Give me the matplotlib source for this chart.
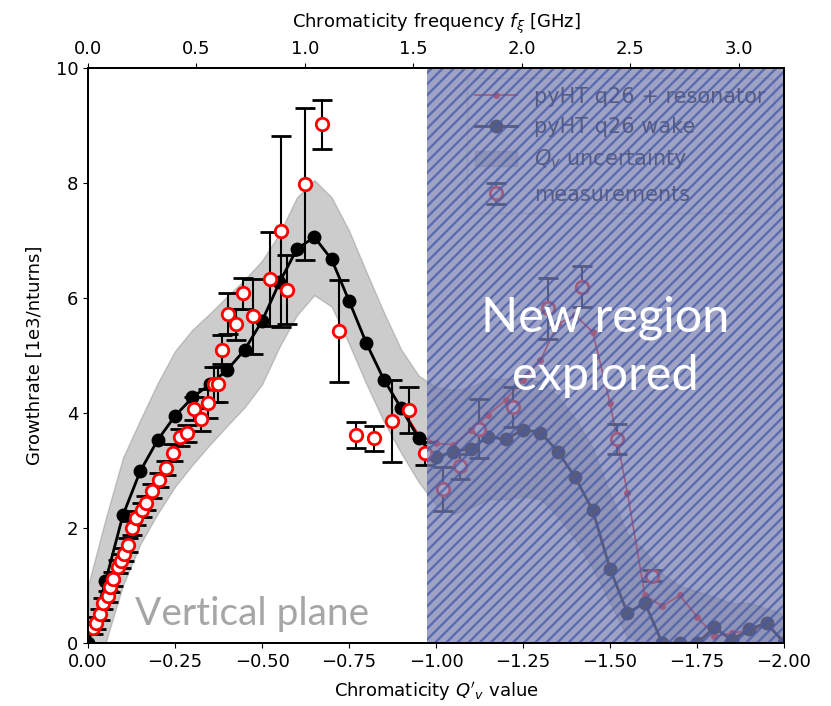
import matplotlib
matplotlib.use("Agg")
import matplotlib.pyplot as plt
import numpy as np

# ---------------- data ----------------
q_sim = [0.0, -0.05, -0.10, -0.15, -0.20, -0.25, -0.30, -0.35, -0.40, -0.45,
         -0.50, -0.55, -0.60, -0.65, -0.70, -0.75, -0.80, -0.85, -0.90, -0.95,
         -1.00, -1.05, -1.10, -1.15, -1.20, -1.25, -1.30, -1.35, -1.40, -1.45,
         -1.50, -1.55, -1.60, -1.65, -1.70, -1.75, -1.80, -1.85, -1.90, -1.95, -2.00]

wake = [0.0, 1.07, 2.22, 2.99, 3.53, 3.95, 4.27, 4.50, 4.75, 5.10,
        5.60, 6.27, 6.85, 7.06, 6.67, 5.95, 5.21, 4.58, 4.08, 3.56,
        3.23, 3.33, 3.38, 3.59, 3.54, 3.71, 3.66, 3.33, 2.88, 2.31,
        1.29, 0.52, 0.70, 0.0, 0.0, 0.0, 0.27, 0.05, 0.24, 0.35, 0.0]

resonator = [0.0, 1.07, 2.22, 2.99, 3.53, 3.95, 4.27, 4.50, 4.75, 5.10,
             5.60, 6.27, 6.85, 7.06, 6.67, 5.95, 5.21, 4.58, 4.10, 3.62,
             3.47, 3.45, 3.70, 3.97, 4.23, 4.57, 4.92, 5.55, 5.70, 5.41,
             4.17, 2.61, 0.83, 0.64, 0.83, 0.46, 0.12, 0.17, 0.22, 0.30, 0.05]

band_upper = [1.00, 2.15, 3.22, 3.88, 4.52, 5.08, 5.45, 5.73, 6.03, 6.32,
              6.65, 7.12, 7.75, 8.05, 7.75, 7.17, 6.45, 5.75, 5.10, 4.65,
              4.45, 4.40, 4.45, 4.60, 4.60, 4.60, 4.55, 4.30, 3.90, 3.40,
              2.60, 1.90, 1.60, 1.20, 1.00, 0.90, 0.80, 0.70, 0.70, 0.60, 0.50]

band_lower = [0.0, 0.0, 1.00, 1.72, 2.25, 2.72, 3.10, 3.45, 3.78, 4.10,
              4.50, 5.15, 5.70, 6.05, 5.85, 5.20, 4.50, 3.85, 3.30, 2.80,
              2.40, 2.25, 2.35, 2.50, 2.50, 2.55, 2.50, 2.20, 1.80, 1.30,
              0.70, 0.10, 0.0, 0.0, 0.0, 0.0, 0.0, 0.0, 0.0, 0.0, 0.0]

meas_q = [-0.015, -0.022, -0.033, -0.044, -0.056, -0.063, -0.073, -0.085, -0.095, -0.104,
          -0.114, -0.126, -0.138, -0.154, -0.165, -0.183, -0.204, -0.224, -0.245, -0.264,
          -0.285, -0.303, -0.324, -0.344, -0.363, -0.374, -0.384, -0.403, -0.424, -0.444,
          -0.473, -0.523, -0.553, -0.573, -0.623, -0.671, -0.721, -0.771, -0.822, -0.872,
          -0.922, -0.968, -1.021, -1.069, -1.122, -1.222, -1.323, -1.418, -1.519, -1.620]
meas_g = [0.26, 0.35, 0.50, 0.69, 0.81, 0.98, 1.12, 1.33, 1.43, 1.54,
          1.70, 2.00, 2.18, 2.31, 2.44, 2.64, 2.83, 3.05, 3.31, 3.58,
          3.65, 4.07, 3.89, 4.17, 4.50, 4.50, 5.10, 5.73, 5.54, 6.08,
          5.68, 6.33, 7.16, 6.14, 7.98, 9.02, 5.43, 3.62, 3.56, 3.86,
          4.05, 3.30, 2.68, 3.07, 3.73, 4.11, 5.82, 6.20, 3.55, 1.17]
meas_err = [0.10, 0.10, 0.10, 0.10, 0.10, 0.10, 0.12, 0.12, 0.12, 0.12,
            0.12, 0.12, 0.12, 0.12, 0.12, 0.12, 0.12, 0.12, 0.15, 0.15,
            0.15, 0.20, 0.20, 0.25, 0.30, 0.30, 0.25, 0.35, 0.27, 0.27,
            0.65, 0.82, 1.66, 0.60, 1.32, 0.43, 0.89, 0.23, 0.22, 0.72,
            0.40, 0.20, 0.38, 0.22, 0.52, 0.35, 0.53, 0.35, 0.26, 0.10]

new_region = [-0.974, -2.05]
top_ticks = [0.0, 0.5, 1.0, 1.5, 2.0, 2.5, 3.0]
top_max = 3.21

# ---------------- plot ----------------
plt.rcParams['font.size'] = 13
plt.rcParams['hatch.linewidth'] = 1.7
fig = plt.figure(figsize=(8.31, 7.06), dpi=100)
ax = fig.add_axes([0.106, 0.0892, 0.8375, 0.8145])

h_band = ax.fill_between(q_sim, band_lower, band_upper, color='gray', alpha=0.4,
                         label=r'$Q_y$ uncertainty', zorder=1)
h_res, = ax.plot(q_sim, resonator, color='red', lw=1.2, marker='o', ms=4,
                 label='pyHT q26 + resonator', zorder=2)
h_wake, = ax.plot(q_sim, wake, color='black', lw=2, marker='o', ms=9,
                  label='pyHT q26 wake', zorder=3)
h_meas = ax.errorbar(meas_q, meas_g, yerr=meas_err, fmt='o', ms=9, mfc='white', mec='red',
                     mew=2, ecolor='black', elinewidth=1.5, capsize=7, capthick=1.5,
                     label='measurements', zorder=4)

leg = ax.legend([h_res, h_wake, h_band, h_meas],
                ['pyHT q26 + resonator', 'pyHT q26 wake', r'$Q_y$ uncertainty', 'measurements'],
                loc='upper right', fontsize=15, frameon=True)
leg.set_zorder(5)

# overlay "new region"
ax.axvspan(new_region[0], new_region[1], facecolor=(0.475, 0.50, 0.69), alpha=0.72,
           edgecolor='none', zorder=6)
ax.axvspan(new_region[0], new_region[1], facecolor='none',
           edgecolor=(0.27, 0.35, 0.66), hatch='///', lw=0, alpha=0.75, zorder=7)

ax.text(-1.486, 5.15, 'New region\nexplored', color='white', fontsize=35,
        family='Lato', ha='center', va='center', linespacing=1.38, zorder=8)
ax.text(-0.135, 0.31, 'Vertical plane', color='#a6a6a6', fontsize=28,
        family='Lato', ha='left', va='baseline', zorder=8)

ax.set_xlim(0, -2.0)
ax.set_ylim(0, 10)
ax.set_xticks([0.0, -0.25, -0.5, -0.75, -1.0, -1.25, -1.5, -1.75, -2.0])
ax.set_yticks([0, 2, 4, 6, 8, 10])
ax.set_xlabel(r"Chromaticity $Q'_v$ value", labelpad=7)
ax.set_ylabel('Growthrate [1e3/nturns]', labelpad=9)
for s in ax.spines.values():
    s.set_linewidth(1.4)
    s.set_zorder(9)

ax2 = ax.twiny()
ax2.set_xlim(0, top_max)
ax2.set_xticks(top_ticks)
ax2.set_xticklabels([f'{t:.1f}' for t in top_ticks])
ax2.set_xlabel(r'Chromaticity frequency $f_\xi$ [GHz]', labelpad=9)
for s in ax2.spines.values():
    s.set_linewidth(1.4)

fig.savefig('out.png', dpi=100)
